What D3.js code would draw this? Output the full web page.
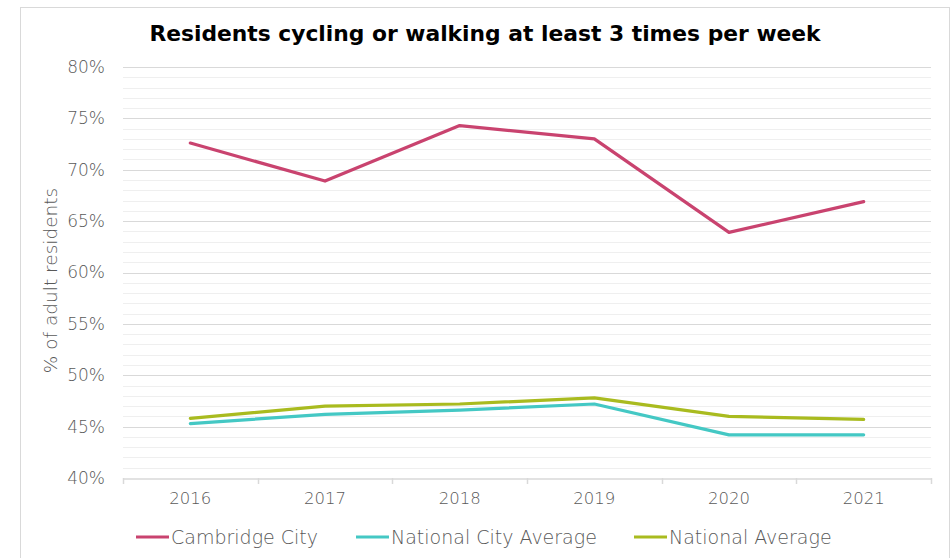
<!DOCTYPE html>
<html>
<head>
<meta charset="utf-8">
<script src="https://cdn.jsdelivr.net/npm/d3@7"></script>
<style>
  body { margin: 0; background: #fff; }
  text { font-family: "DejaVu Sans", sans-serif; }
</style>
</head>
<body>
<svg id="chart"></svg>
<script>
const years = ['2016', '2017', '2018', '2019', '2020', '2021']
const cambridgeCity = [72.6, 68.9, 74.3, 73.0, 63.9, 66.9]
const nationalCityAverage = [45.3, 46.2, 46.6, 47.2, 44.2, 44.2]
const nationalAverage = [45.8, 47.0, 47.2, 47.8, 46.0, 45.7]
const yTicks = [40, 45, 50, 55, 60, 65, 70, 75, 80]

const series = [
  { label: 'Cambridge City', values: cambridgeCity, color: '#c9436f' },
  { label: 'National City Average', values: nationalCityAverage, color: '#44c8c4' },
  { label: 'National Average', values: nationalAverage, color: '#a9bb1f' },
]

const width = 952
const height = 558
const plot = { left: 123, right: 931, top: 67, bottom: 478 }
const labelFont = '"DejaVu Sans", sans-serif'
const labelColor = '#595959'

const svg = d3.select('#chart')
  .attr('width', width)
  .attr('height', height)

// chart area border
svg.append('rect')
  .attr('x', 20.5)
  .attr('y', 7.5)
  .attr('width', 929)
  .attr('height', 600)
  .attr('fill', 'none')
  .attr('stroke', '#d9d9d9')

const x = d3.scaleBand()
  .domain(years)
  .range([plot.left, plot.right])

const y = d3.scaleLinear()
  .domain([40, 80])
  .range([plot.bottom, plot.top])

// minor gridlines every 1%
svg.append('g')
  .selectAll('line')
  .data(d3.range(41, 80).filter(v => v % 5 !== 0))
  .enter()
  .append('line')
  .attr('x1', plot.left)
  .attr('x2', plot.right)
  .attr('y1', d => Math.round(y(d)) + 0.5)
  .attr('y2', d => Math.round(y(d)) + 0.5)
  .attr('stroke', '#efefef')

// major gridlines
svg.append('g')
  .selectAll('line')
  .data(yTicks.slice(1))
  .enter()
  .append('line')
  .attr('x1', plot.left)
  .attr('x2', plot.right)
  .attr('y1', d => Math.round(y(d)) + 0.5)
  .attr('y2', d => Math.round(y(d)) + 0.5)
  .attr('stroke', '#d9d9d9')

// y axis labels
const yAxis = svg.append('g')
  .attr('transform', `translate(${plot.left}, 0)`)
  .call(d3.axisLeft(y).tickValues(yTicks).tickSize(0).tickPadding(18).tickFormat(d => d + '%'))
yAxis.select('.domain').remove()
yAxis.selectAll('text')
  .attr('font-size', 17)
  .attr('font-family', labelFont)
  .attr('font-weight', 200)
  .attr('fill', labelColor)

// x axis
const xAxis = svg.append('g')
  .attr('transform', `translate(0, ${Math.round(plot.bottom) + 0.5})`)
  .call(d3.axisBottom(x).tickSize(0).tickPadding(14))
xAxis.select('.domain').attr('stroke', '#d9d9d9').attr('stroke-width', 1.5)
xAxis.selectAll('text')
  .attr('font-size', 16.5)
  .attr('font-family', labelFont)
  .attr('font-weight', 200)
  .attr('fill', labelColor)

// band boundary ticks
svg.append('g')
  .selectAll('line')
  .data(years.map(d => x(d)).concat([plot.right]))
  .enter()
  .append('line')
  .attr('x1', d => Math.round(d) + 0.5)
  .attr('x2', d => Math.round(d) + 0.5)
  .attr('y1', plot.bottom)
  .attr('y2', plot.bottom + 6)
  .attr('stroke', '#d9d9d9')
  .attr('stroke-width', 1.5)

// y axis title
svg.append('text')
  .attr('transform', `translate(57, ${(plot.top + plot.bottom) / 2 + 8}) rotate(-90)`)
  .attr('text-anchor', 'middle')
  .attr('font-size', 18.5)
  .attr('font-weight', 200)
  .attr('fill', labelColor)
  .text('% of adult residents')

// title
svg.append('text')
  .attr('x', 485)
  .attr('y', 41)
  .attr('text-anchor', 'middle')
  .attr('font-size', 21.8)
  .attr('font-weight', 'bold')
  .attr('fill', '#000')
  .text('Residents cycling or walking at least 3 times per week')

// lines
const line = d3.line()
  .x((d, i) => x(years[i]) + x.bandwidth() / 2)
  .y(d => y(d))

svg.append('g')
  .selectAll('path')
  .data(series)
  .enter()
  .append('path')
  .attr('d', d => line(d.values))
  .attr('fill', 'none')
  .attr('stroke', d => d.color)
  .attr('stroke-width', 3.2)
  .attr('stroke-linejoin', 'round')
  .attr('stroke-linecap', 'round')

// legend
const legendX = [136, 356, 634]
const legend = svg.append('g')
  .selectAll('g')
  .data(series)
  .enter()
  .append('g')
  .attr('transform', (d, i) => `translate(${legendX[i]}, 537)`)
legend.append('line')
  .attr('x1', 0)
  .attr('x2', 33)
  .attr('stroke', d => d.color)
  .attr('stroke-width', 3.2)
legend.append('text')
  .attr('x', 35)
  .attr('dy', '0.35em')
  .attr('font-size', 19)
  .attr('font-weight', 200)
  .attr('fill', labelColor)
  .text(d => d.label)
</script>
</body>
</html>
